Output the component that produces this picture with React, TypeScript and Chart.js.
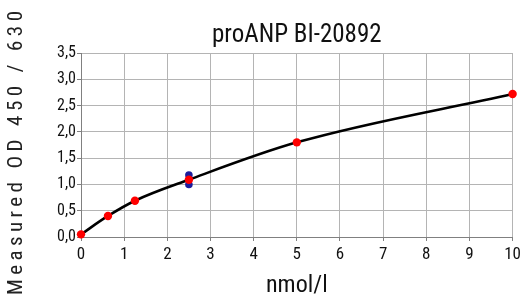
import { useEffect, useRef } from "react";
import { Chart, registerables } from "chart.js";

Chart.register(...registerables);

// Standard concentrations (nmol/l) and mean measured OD
const concentrations = [0, 0.625, 1.25, 2.5, 5, 10];
const meanOD = [0.05, 0.4, 0.69, 1.09, 1.8, 2.72];
// Visible replicate readings (blue)
const replicateConc = [2.5, 2.5];
const replicateOD = [1.0, 1.18];

const chartTitle = "proANP BI-20892";
const xTitle = "nmol/l";
const yTitle = "Measured OD 450 / 630";

const FAMILY = 'Roboto, "Liberation Sans", sans-serif';
const COND = "condensed"; // passed as font weight slot -> "condensed NNpx Roboto"

const yTitlePlugin = {
  id: "yTitleSpaced",
  afterDraw(chart: any) {
    const ctx = chart.ctx as CanvasRenderingContext2D;
    ctx.save();
    ctx.font = `semi-condensed 21px ${FAMILY}`;
    (ctx as any).letterSpacing = "0px";
    const w = ctx.measureText(yTitle).width;
    const target = 284;
    const sp = Math.max(0, (target - w) / (yTitle.length - 1));
    (ctx as any).letterSpacing = `${sp}px`;
    ctx.fillStyle = "#222";
    ctx.translate(22, 153 + target / 2);
    ctx.rotate(-Math.PI / 2);
    ctx.textAlign = "left";
    ctx.textBaseline = "alphabetic";
    ctx.fillText(yTitle, 0, 0);
    ctx.restore();
  },
};

export default function App() {
  const ref = useRef<HTMLCanvasElement | null>(null);

  useEffect(() => {
    document.body.style.margin = "0";
    if (!ref.current) return;
    const pts = (xs: number[], ys: number[]) => xs.map((x, i) => ({ x, y: ys[i] }));
    const chart = new Chart(ref.current, {
      type: "scatter",
      data: {
        datasets: [
          {
            label: "mean",
            data: pts(concentrations, meanOD),
            backgroundColor: "#ff0000",
            borderColor: "#ff0000",
            pointRadius: 4.2,
            pointBorderWidth: 0,
            order: 0,
            clip: false as any,
          },
          {
            label: "replicates",
            data: pts(replicateConc, replicateOD),
            backgroundColor: "#1c1c9c",
            borderColor: "#1c1c9c",
            pointRadius: 3.8,
            pointBorderWidth: 0,
            order: 1,
            clip: false as any,
          },
          {
            label: "fit",
            data: pts(concentrations, meanOD),
            showLine: true,
            borderColor: "#000",
            borderWidth: 2.6,
            pointRadius: 0,
            cubicInterpolationMode: "monotone",
            order: 2,
            clip: false as any,
          } as any,
        ],
      },
      options: {
        animation: false,
        responsive: false,
        maintainAspectRatio: false,
        layout: { padding: { left: 0, right: 9, top: 0, bottom: 0 } },
        plugins: {
          legend: { display: false },
          tooltip: { enabled: false },
          title: {
            display: true,
            fullSize: false,
            text: chartTitle,
            color: "#111",
            font: { family: FAMILY, size: 25, weight: COND as any },
            padding: { top: 21, bottom: 2 },
          },
        },
        scales: {
          x: {
            type: "linear",
            min: 0,
            max: 10,
            ticks: {
              stepSize: 1,
              color: "#111",
              font: { family: FAMILY, size: 17, weight: COND as any },
              padding: 4,
              maxRotation: 0,
            },
            grid: { color: "#b4b4b4", tickLength: 4, tickColor: "#808080" },
            border: { color: "#808080", width: 1 },
            title: {
              display: true,
              text: xTitle,
              color: "#111",
              font: { family: FAMILY, size: 24, weight: COND as any },
              padding: { top: 0, bottom: 0 },
            },
            afterFit(scale: any) {
              scale.height = 63;
            },
          },
          y: {
            type: "linear",
            min: 0,
            max: 3.5,
            ticks: {
              stepSize: 0.5,
              color: "#111",
              font: { family: FAMILY, size: 16, weight: COND as any },
              padding: 1,
              callback: (v: any) => Number(v).toFixed(1).replace(".", ","),
            },
            grid: { color: "#b4b4b4", tickLength: 4, tickColor: "#808080" },
            border: { color: "#808080", width: 1 },
            afterFit(scale: any) {
              scale.width = 81;
            },
          },
        },
      },
      plugins: [yTitlePlugin],
    });
    return () => chart.destroy();
  }, []);

  return <canvas ref={ref} width={525} height={300} style={{ display: "block" }} />;
}
